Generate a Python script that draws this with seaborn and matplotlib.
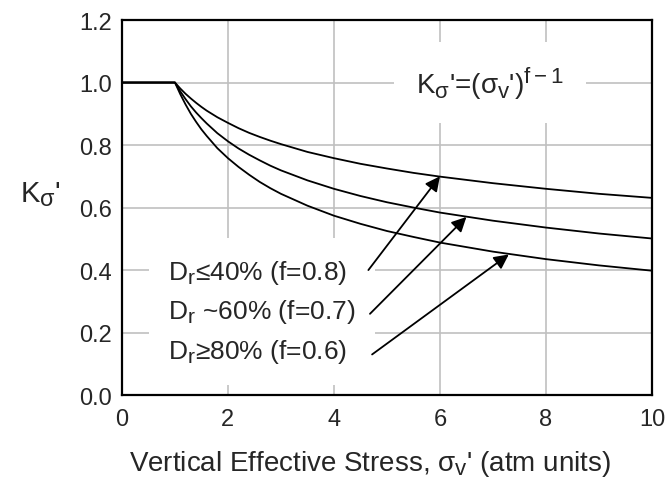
import seaborn as sns
import pandas as pd
import matplotlib.pyplot as plt
import matplotlib._mathtext as mathtext_internals
from matplotlib import rcParams

# subscripts in the reference are nearly full size
mathtext_internals.SHRINK_FACTOR = 0.8

# values
stress = [0, 1, 1.1, 1.2, 1.3, 1.4, 1.5, 1.6, 1.8, 2, 2.2, 2.4, 2.6, 2.8, 3,
          3.5, 4, 4.5, 5, 5.5, 6, 7, 8, 9, 10]
k_f08 = [1.0, 1.0, 0.981, 0.964, 0.949, 0.935, 0.922, 0.910, 0.889, 0.871, 0.854,
         0.839, 0.826, 0.814, 0.803, 0.778, 0.758, 0.740, 0.725, 0.711, 0.699,
         0.678, 0.660, 0.644, 0.631]
k_f07 = [1.0, 1.0, 0.972, 0.947, 0.924, 0.904, 0.886, 0.869, 0.838, 0.812, 0.789,
         0.769, 0.751, 0.734, 0.719, 0.687, 0.660, 0.637, 0.617, 0.600, 0.584,
         0.558, 0.536, 0.517, 0.501]
k_f06 = [1.0, 1.0, 0.963, 0.930, 0.900, 0.874, 0.850, 0.829, 0.790, 0.758, 0.730,
         0.705, 0.682, 0.662, 0.644, 0.606, 0.574, 0.548, 0.525, 0.506, 0.488,
         0.459, 0.435, 0.415, 0.398]
series_names = ['f=0.8', 'f=0.7', 'f=0.6']

labels = ['D$_\\mathrm{r}$\u226440% (f=0.8)',
          'D$_\\mathrm{r}$ ~60% (f=0.7)',
          'D$_\\mathrm{r}$\u226580% (f=0.6)']
# arrow (tail, tip) in data units
arrow_tails = [(4.65, 0.40), (4.68, 0.26), (4.72, 0.13)]
arrow_tips = [(6.0, 0.70), (6.5, 0.57), (7.3, 0.45)]

x_ticks = [0, 2, 4, 6, 8, 10]
y_ticks = [0.0, 0.2, 0.4, 0.6, 0.8, 1.0, 1.2]

df = pd.DataFrame({'stress': stress * 3,
                   'K': k_f08 + k_f07 + k_f06,
                   'f': [n for n in series_names for _ in stress]})

sns.set_style('white')
rcParams['font.family'] = ['Liberation Sans', 'DejaVu Sans']
rcParams['mathtext.fontset'] = 'custom'
rcParams['mathtext.rm'] = 'Liberation Sans'
rcParams['mathtext.it'] = 'Liberation Sans'
rcParams['mathtext.bf'] = 'Liberation Sans:bold'

fig = plt.figure(figsize=(6.7, 4.89), dpi=100)
ax = fig.add_axes([0.182, 0.19, 0.791, 0.767])

sns.lineplot(data=df, x='stress', y='K', hue='f', palette=['black'] * 3,
             linewidth=1.3, legend=False, ax=ax, zorder=3)

ax.set_xlim(0, 10)
ax.set_ylim(0, 1.2)
ax.set_xticks(x_ticks)
ax.set_yticks(y_ticks)
ax.set_yticklabels(['%.1f' % v for v in y_ticks])
ax.grid(True, color='#c0c0c0', linewidth=1.2, zorder=0)
ax.set_axisbelow(True)
ax.tick_params(length=0, labelsize=17)
ax.tick_params(axis='x', pad=9)
ax.tick_params(axis='y', pad=7)
for s in ax.spines.values():
    s.set_color('black')
    s.set_linewidth(1.6)
    s.set_zorder(5)

ax.set_xlabel("Vertical Effective Stress, $\\sigma_\\mathrm{v}$' (atm units)",
              fontsize=20, va='center')
ax.xaxis.set_label_coords(0.468, -0.18)
ax.set_ylabel("K$_\\sigma$'", fontsize=21, rotation=0, va='center')
ax.yaxis.set_label_coords(-0.153, 0.536)

ax.text(6.94, 1.0, "K$_\\sigma$'=($\\sigma_\\mathrm{v}$')$^\\mathrm{f-1}$",
        fontsize=20, ha='center', va='center', zorder=4,
        bbox=dict(facecolor='white', edgecolor='none', pad=16))

ax.text(0.87, 0.268, '\n'.join(labels), fontsize=19, ha='left', va='center',
        linespacing=1.56, zorder=4,
        bbox=dict(facecolor='white', edgecolor='none', pad=14))

for tail, tip in zip(arrow_tails, arrow_tips):
    ax.annotate('', xy=tip, xytext=tail, zorder=6,
                arrowprops=dict(arrowstyle='-|>', color='black', lw=1.3,
                                mutation_scale=22, shrinkA=0, shrinkB=0))

fig.savefig('out.png', dpi=100)
